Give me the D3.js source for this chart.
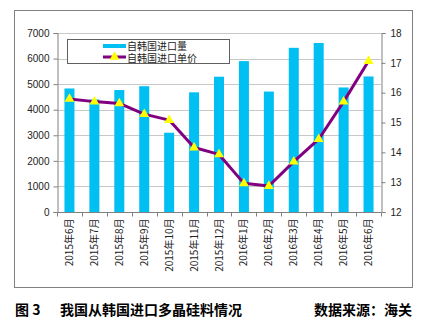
<!DOCTYPE html>
<html><head><meta charset="utf-8">
<script src="https://cdn.jsdelivr.net/npm/d3@7"></script>
<style>body{margin:0;background:#fff}svg{display:block}</style>
</head><body>
<script>
const categories = ["2015年6月","2015年7月","2015年8月","2015年9月","2015年10月","2015年11月","2015年12月","2016年1月","2016年2月","2016年3月","2016年4月","2016年5月","2016年6月"];
const volume = [4830, 4400, 4770, 4920, 3100, 4680, 5290, 5900, 4710, 6420, 6610, 4870, 5300];
const price = [15.79, 15.70, 15.64, 15.28, 15.08, 14.16, 13.93, 12.96, 12.87, 13.69, 14.44, 15.70, 17.06];
const leftTicks = [0,1000,2000,3000,4000,5000,6000,7000];
const rightTicks = [12,13,14,15,16,17,18];
const seriesNames = ["自韩国进口量","自韩国进口单价"];
const captionLeft = "图 3";
const captionTitle = "我国从韩国进口多晶硅料情况";
const captionRight = "数据来源：海关";

const W=431,H=325;
const svg=d3.select("body").append("svg").attr("width",W).attr("height",H);
svg.append("rect").attr("x",14.5).attr("y",10.5).attr("width",398).attr("height",277).attr("fill","#fff").attr("stroke","#808080").attr("stroke-width",1);

const L=57,R=381,T=33,B=212;
const x=d3.scaleBand().domain(categories).range([L,R]);
const yL=d3.scaleLinear().domain([0,7000]).range([B,T]);
const yR=d3.scaleLinear().domain([12,18]).range([B,T]);

// gridlines
svg.append("g").selectAll("line").data(leftTicks.slice(1)).join("line")
  .attr("x1",L).attr("x2",R).attr("y1",d=>Math.round(yL(d))+0.5).attr("y2",d=>Math.round(yL(d))+0.5)
  .attr("stroke","#c8c8c8").attr("stroke-width",1);

// bars
const bw=10;
svg.append("g").selectAll("rect").data(volume).join("rect")
  .attr("x",(d,i)=>x(categories[i])+x.bandwidth()/2-bw/2).attr("width",bw)
  .attr("y",d=>yL(d)).attr("height",d=>B-yL(d)).attr("fill","#00bff3");

// axes
const font="'Liberation Sans', Arial, sans-serif";
const ax=svg.append("g").attr("transform",`translate(${L+0.5},0)`)
  .call(d3.axisLeft(yL).tickValues(leftTicks).tickSize(4).tickPadding(4).tickFormat(d3.format("d")));
const ar=svg.append("g").attr("transform",`translate(${R+0.5},0)`)
  .call(d3.axisRight(yR).tickValues(rightTicks).tickSize(4).tickPadding(5).tickFormat(d3.format("d")));
[ax,ar].forEach(g=>{g.select(".domain").attr("stroke","#808080");g.selectAll("line").attr("stroke","#808080");
  g.selectAll("text").attr("font-family",font).attr("font-size",10).attr("fill","#222");});

// x axis
const xb=svg.append("g").attr("transform",`translate(0,${B+0.5})`);
xb.append("line").attr("x1",L).attr("x2",R).attr("stroke","#808080");
xb.selectAll("line.t").data(d3.range(categories.length+1)).join("line").attr("class","t")
  .attr("x1",i=>Math.round(L+i*x.step())+0.5).attr("x2",i=>Math.round(L+i*x.step())+0.5).attr("y1",0).attr("y2",4).attr("stroke","#808080");
xb.selectAll("text").data(categories).join("text")
  .attr("transform",d=>`translate(${x(d)+x.bandwidth()/2+3.5},6) rotate(-90)`)
  .attr("text-anchor","end").attr("font-family","'Noto Sans CJK SC', sans-serif").attr("font-size",10).attr("fill","#222").text(d=>d);

// line
const lineGen=d3.line().x((d,i)=>x(categories[i])+x.bandwidth()/2).y(d=>yR(d));
svg.append("path").datum(price).attr("d",lineGen).attr("fill","none").attr("stroke","#800080").attr("stroke-width",3).attr("stroke-linejoin","round");
const tri=d3.symbol().type(d3.symbolTriangle).size(42);
svg.append("g").selectAll("path").data(price).join("path")
  .attr("transform",(d,i)=>`translate(${x(categories[i])+x.bandwidth()/2},${yR(d)})`)
  .attr("d",tri).attr("fill","#ffff00");

// legend
const lg=svg.append("g");
lg.append("rect").attr("x",67.5).attr("y",39.5).attr("width",162).attr("height",24).attr("fill","#fff").attr("stroke","#606060");
lg.append("rect").attr("x",103).attr("y",44).attr("width",23).attr("height",4).attr("fill","#00bff3");
lg.append("line").attr("x1",103).attr("x2",126).attr("y1",57).attr("y2",57).attr("stroke","#800080").attr("stroke-width",3);
lg.append("path").attr("transform","translate(114.5,57)").attr("d",tri).attr("fill","#ffff00");
lg.selectAll("text").data(seriesNames).join("text").attr("x",127).attr("y",(d,i)=>49.5+i*12)
  .attr("font-family","'Liberation Sans', 'Noto Sans CJK SC', sans-serif").attr("font-size",10).attr("fill","#222").text(d=>d);

// caption
const cf="'Noto Sans CJK SC', sans-serif";
svg.append("text").attr("x",15).attr("y",315).attr("font-family",cf).attr("font-weight","bold").attr("font-size",14).text(captionLeft);
svg.append("text").attr("x",60).attr("y",315).attr("font-family",cf).attr("font-weight","bold").attr("font-size",14).text(captionTitle);
svg.append("text").attr("x",412).attr("y",315).attr("text-anchor","end").attr("font-family",cf).attr("font-weight","bold").attr("font-size",14).text(captionRight);
</script>
</body></html>
